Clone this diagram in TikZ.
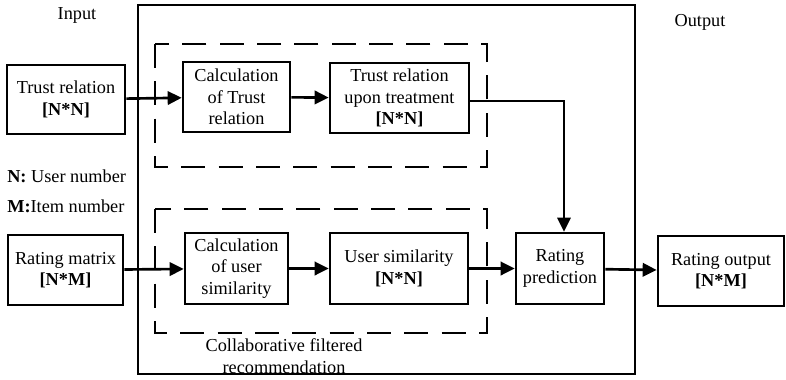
\documentclass[tikz,border=0pt]{standalone}
\usepackage{fontspec}
\setmainfont{Liberation Serif}
\usetikzlibrary{arrows.meta, positioning}

\tikzset{
  blockbox/.style={draw, line width=2pt, align=center, inner sep=2pt,
                   font=\fontsize{13.7}{16}\selectfont},
  plaintext/.style={align=center, inner sep=0pt, font=\fontsize{13.7}{16}\selectfont},
  dashbox/.style={line width=2pt, dash pattern=on 18pt off 10pt},
  flow/.style={line width=2pt, -{Triangle[length=10.5pt,width=10pt]}}
}

\begin{document}
\begin{tikzpicture}[x=0.75pt, y=-0.75pt]
  \useasboundingbox (0,0) rectangle (786,379);

  % Outer frame and dashed groups
  \draw[line width=2pt] (138,5) rectangle (635,374);
  \draw[dashbox] (155,44) rectangle (487,167);
  \draw[dashbox] (155,209) rectangle (487,333);

  % Labels
  \node[plaintext] (inlbl) at (77,15) {Input};
  \node[plaintext] (outlbl) at (700,22) {Output};
  \node[plaintext, anchor=west] (nkey) at (7,176) {\textbf{N:} User number};
  \node[plaintext, anchor=west] (mkey) at (7,206) {\textbf{M:}Item number};
  \node[plaintext] (cflbl) at (284,356) {Collaborative filtered\\recommendation};

  % Trust branch
  \node[blockbox, minimum width=88.5pt, minimum height=51.75pt] (trust) at (66,99.5)
       {Trust relation\\\textbf{[N*N]}};
  \node[blockbox, minimum width=80.25pt, minimum height=52.5pt] (calctrust) at (236.5,97)
       {Calculation\\of Trust\\relation};
  \node[blockbox, minimum width=104.25pt, minimum height=52.5pt] (treat) at (399.5,98)
       {Trust relation\\upon treatment\\\textbf{[N*N]}};

  % Rating branch
  \node[blockbox, minimum width=86.25pt, minimum height=52.5pt] (rmat) at (65.5,270)
       {Rating matrix\\\textbf{[N*M]}};
  \node[blockbox, minimum width=77.25pt, minimum height=53.25pt] (calcuser) at (236.5,268.5)
       {Calculation\\of user\\similarity};
  \node[blockbox, minimum width=103.5pt, minimum height=53.25pt] (usim) at (399,268.5)
       {User similarity\\\textbf{[N*N]}};
  \node[blockbox, minimum width=66pt, minimum height=53.25pt] (pred) at (560,268.5)
       {Rating\\prediction};
  \node[blockbox, minimum width=94.5pt, minimum height=52.5pt] (rout) at (721,271)
       {Rating output\\\textbf{[N*M]}};

  % Connectors
  \draw[flow] (trust) -- (calctrust);
  \draw[flow] (calctrust) -- (treat);
  \draw[flow, line width=1.5pt] ([yshift=-2pt]treat.east) -| ([xshift=3pt]pred.north);
  \draw[flow] (rmat) -- (calcuser);
  \draw[flow] (calcuser) -- (usim);
  \draw[flow] (usim) -- (pred);
  \draw[flow] (pred) -- (rout);
\end{tikzpicture}
\end{document}
